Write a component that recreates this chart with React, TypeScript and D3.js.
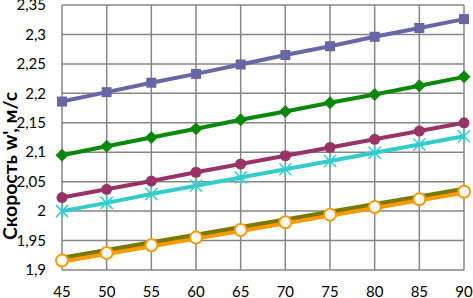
import React from "react";
import * as d3 from "d3";

const xValues = [45, 50, 55, 60, 65, 70, 75, 80, 85, 90];
const yTicks = [1.9, 1.95, 2, 2.05, 2.1, 2.15, 2.2, 2.25, 2.3, 2.35];

const seriesBlue = [2.186, 2.202, 2.218, 2.233, 2.249, 2.265, 2.28, 2.296, 2.311, 2.326];
const seriesGreen = [2.095, 2.11, 2.125, 2.14, 2.155, 2.169, 2.184, 2.198, 2.213, 2.228];
const seriesPurple = [2.023, 2.037, 2.051, 2.066, 2.08, 2.094, 2.108, 2.122, 2.136, 2.15];
const seriesCyan = [2.0, 2.014, 2.029, 2.043, 2.057, 2.071, 2.085, 2.099, 2.113, 2.127];
const seriesOlive = [1.921, 1.934, 1.947, 1.96, 1.973, 1.986, 1.999, 2.012, 2.025, 2.038];
const seriesOrange = [1.916, 1.929, 1.942, 1.955, 1.968, 1.981, 1.994, 2.007, 2.02, 2.033];

const W = 473, H = 298;
const m = { left: 62, right: 9, top: 5, bottom: 28 };

export default function App() {
  const x = d3.scaleLinear().domain([45, 90]).range([m.left, W - m.right]);
  const y = d3.scaleLinear().domain([1.9, 2.35]).range([H - m.bottom, m.top]);
  const line = d3.line<number>().x((_, i) => x(xValues[i])).y((d) => y(d));
  const fmt = (v: number) => String(v).replace(".", ",");
  const font = "Lato, 'Open Sans', sans-serif";

  const markers = (data: number[], render: (cx: number, cy: number, i: number) => React.ReactNode) =>
    data.map((d, i) => render(x(xValues[i]), y(d), i));

  return (
    <svg width={W} height={H} style={{ position: "absolute", left: 0, top: 0 }}>
      <rect width={W} height={H} fill="#fff" />
      {xValues.map((v) => (
        <line key={"gx" + v} x1={x(v)} x2={x(v)} y1={y(2.35)} y2={y(1.9)} stroke="#868686" strokeWidth={1.5} />
      ))}
      {yTicks.map((v) => (
        <line key={"gy" + v} x1={x(45)} x2={x(90)} y1={y(v)} y2={y(v)} stroke="#868686" strokeWidth={1.5} />
      ))}
      {yTicks.map((v) => (
        <text key={"ty" + v} x={46} y={y(v)} dy="0.35em" textAnchor="end" fontSize={15} fontFamily={font} fill="#000">
          {fmt(v)}
        </text>
      ))}
      {xValues.map((v) => (
        <text key={"tx" + v} x={x(v)} y={292} dy="0.35em" textAnchor="middle" fontSize={15} fontFamily={font} fill="#000">
          {v}
        </text>
      ))}
      <text
        transform={`translate(17,166) rotate(-90)`}
        textAnchor="middle"
        fontSize={19}
        fontWeight="bold"
        fontFamily={font}
        fill="#000"
        textLength={148}
        lengthAdjust="spacingAndGlyphs"
      >
        Скорость w', м/с
      </text>

      <path d={line(seriesBlue) || ""} fill="none" stroke="#6767A8" strokeWidth={4} />
      {markers(seriesBlue, (cx, cy, i) => (
        <rect key={"b" + i} x={cx - 5} y={cy - 5} width={10} height={10} fill="#6767A8" />
      ))}

      <path d={line(seriesGreen) || ""} fill="none" stroke="#0A880A" strokeWidth={4} />
      {markers(seriesGreen, (cx, cy, i) => (
        <path key={"g" + i} d={`M${cx},${cy - 6.5}L${cx + 6.5},${cy}L${cx},${cy + 6.5}L${cx - 6.5},${cy}Z`} fill="#0A880A" />
      ))}

      <path d={line(seriesPurple) || ""} fill="none" stroke="#993366" strokeWidth={4} />
      {markers(seriesPurple, (cx, cy, i) => (
        <circle key={"p" + i} cx={cx} cy={cy} r={5.5} fill="#993366" />
      ))}

      <path d={line(seriesCyan) || ""} fill="none" stroke="#33CCCC" strokeWidth={4} />
      {markers(seriesCyan, (cx, cy, i) => (
        <g key={"c" + i} stroke="#33CCCC" strokeWidth={1.5}>
          <line x1={cx - 6} y1={cy - 6} x2={cx + 6} y2={cy + 6} />
          <line x1={cx - 6} y1={cy + 6} x2={cx + 6} y2={cy - 6} />
          <line x1={cx} y1={cy - 7} x2={cx} y2={cy + 7} />
        </g>
      ))}

      <path d={line(seriesOrange) || ""} fill="none" stroke="#FF9900" strokeWidth={5} />
      <path d={line(seriesOlive) || ""} fill="none" stroke="#7A7A00" strokeWidth={4} />
      <path d={line(seriesOrange) || ""} fill="none" stroke="#FF9900" strokeWidth={3} transform="translate(0,1.5)" />
      {markers(seriesOrange, (cx, cy, i) => (
        <circle key={"o" + i} cx={cx} cy={cy} r={6} fill="#fff" stroke="#FF9900" strokeWidth={2} />
      ))}
    </svg>
  );
}
